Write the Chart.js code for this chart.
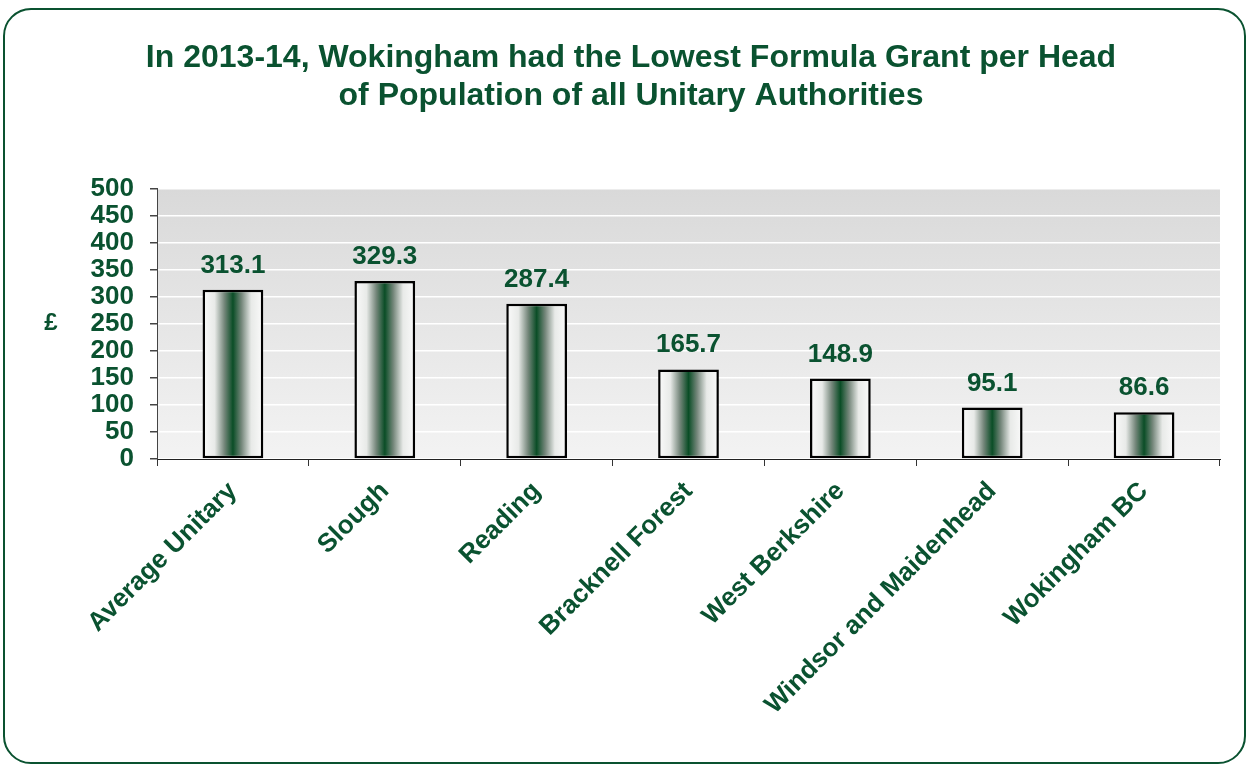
<!DOCTYPE html>
<html>
<head>
<meta charset="utf-8">
<script src="https://cdn.jsdelivr.net/npm/chart.js@4"></script>
<style>
  body { margin: 0; background: #fff; }
  #frame {
    position: absolute; left: 3px; top: 8px; width: 1239px; height: 752px;
    border: 2px solid #0a5230; border-radius: 28px;
  }
  #chart { position: absolute; left: 0; top: 0; }
</style>
</head>
<body>
<div id="frame"></div>
<canvas id="chart" width="1247" height="765"></canvas>
<script>
// Chart data
const categories = ['Average Unitary', 'Slough', 'Reading', 'Bracknell Forest', 'West Berkshire', 'Windsor and Maidenhead', 'Wokingham BC'];
const grantPerHead = [313.1, 329.3, 287.4, 165.7, 148.9, 95.1, 86.6];
const titleLines = ['In 2013-14, Wokingham had the Lowest Formula Grant per Head', 'of Population of all Unitary Authorities'];
const yTitle = '£';

const green = '#0a5230';
const font = "'Liberation Sans', Arial, sans-serif";

// Horizontal white -> green -> white fill for each bar
function barFill(ctx) {
    const chart = ctx.chart;
    const xs = chart.scales.x;
    if (!xs || !chart.chartArea) return green;
    const cx = xs.getPixelForValue(ctx.dataIndex);
    const half = (xs.width / categories.length) * 0.4 / 2;
    const g = chart.ctx.createLinearGradient(cx - half, 0, cx + half, 0);
    g.addColorStop(0, '#fbfbfb');
    g.addColorStop(0.2, '#e8eae8');
    g.addColorStop(0.36, '#74867a');
    g.addColorStop(0.5, '#0a4d26');
    g.addColorStop(0.64, '#74867a');
    g.addColorStop(0.8, '#e8eae8');
    g.addColorStop(1, '#fbfbfb');
    return g;
}

// Plot area grey gradient
const plotBackground = {
    id: 'plotBackground',
    beforeDraw(chart) {
        const { ctx, chartArea: a } = chart;
        const g = ctx.createLinearGradient(0, a.top, 0, a.bottom);
        g.addColorStop(0, '#d9d9d9');
        g.addColorStop(1, '#f3f3f3');
        ctx.save();
        ctx.fillStyle = g;
        ctx.fillRect(a.left, a.top, a.right - a.left, a.bottom - a.top);
        ctx.restore();
    }
};

// Value labels above bars + upright "£" axis title
const valueLabels = {
    id: 'valueLabels',
    afterDatasetsDraw(chart) {
        const ctx = chart.ctx;
        const meta = chart.getDatasetMeta(0);
        ctx.save();
        ctx.fillStyle = green;
        ctx.font = 'bold 26px ' + font;
        ctx.textAlign = 'center';
        ctx.textBaseline = 'alphabetic';
        meta.data.forEach((bar, i) => {
            ctx.fillText(grantPerHead[i].toFixed(1), bar.x, bar.y - 17);
        });
        ctx.font = 'bold 24px ' + font;
        ctx.textBaseline = 'middle';
        ctx.fillText(yTitle, 51, 323);
        ctx.restore();
    }
};

new Chart(document.getElementById('chart'), {
    type: 'bar',
    data: {
        labels: categories,
        datasets: [{
            data: grantPerHead,
            backgroundColor: barFill,
            borderColor: '#000',
            borderWidth: 2.5,
            borderSkipped: false,
            barPercentage: 0.4,
            categoryPercentage: 1.0
        }]
    },
    options: {
        responsive: false,
        animation: false,
        layout: { padding: { left: 42, right: 27, top: 39, bottom: 10 } },
        plugins: {
            legend: { display: false },
            tooltip: { enabled: false },
            title: {
                display: true,
                text: titleLines,
                color: green,
                font: { family: font, size: 32, weight: 'bold', lineHeight: 1.2 },
                padding: { top: 0, bottom: 73 }
            }
        },
        scales: {
            x: {
                afterFit: s => { s.height = 296; },
                grid: { drawOnChartArea: false, drawTicks: true, tickLength: 7, tickColor: '#333' },
                border: { color: '#222', width: 1 },
                ticks: {
                    color: green,
                    font: { family: font, size: 26, weight: 'bold' },
                    minRotation: 45,
                    maxRotation: 45,
                    padding: 10
                }
            },
            y: {
                min: 0,
                max: 500,
                afterFit: s => { s.width = 115; },
                grid: { color: '#ffffff', lineWidth: 1.5, tickLength: 7, tickColor: '#444' },
                border: { color: '#444', width: 1 },
                ticks: {
                    stepSize: 50,
                    autoSkip: false,
                    color: green,
                    font: { family: font, size: 26, weight: 'bold' },
                    padding: 16
                }
            }
        }
    },
    plugins: [plotBackground, valueLabels]
});
</script>
</body>
</html>
